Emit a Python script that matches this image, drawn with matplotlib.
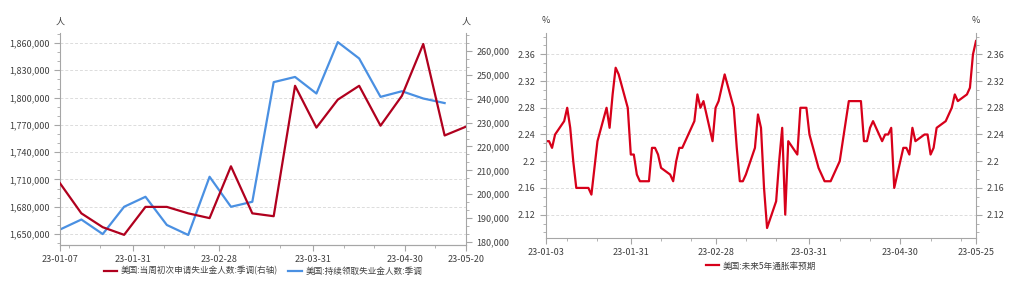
import pandas as pd
import matplotlib
matplotlib.use('Agg')
import matplotlib.pyplot as plt
import matplotlib.dates as mdates
from matplotlib.ticker import FuncFormatter, MultipleLocator, AutoMinorLocator

plt.rcParams['font.family'] = ['Noto Sans CJK SC', 'DejaVu Sans']

# ---- left chart: weekly jobless claims
weeks = pd.date_range('2023-01-07', '2023-05-20', freq='7D')
initial_claims = [204600, 192000, 186200, 183000, 194700, 194700, 192000, 190000,
                  211700, 192000, 190800, 245400, 227900, 239600, 245400, 228700,
                  241200, 262900, 224600, 228300]
continuing_claims = [1655000, 1666000, 1650000, 1680000, 1691000, 1660000, 1649000,
                     1713000, 1680000, 1685500, 1817000, 1822700, 1804500, 1861000,
                     1843000, 1800800, 1807000, 1799000, 1794000]
left_labels = ['美国:当周初次申请失业金人数:季调(右轴)', '美国:持续领取失业金人数:季调']

# ---- right chart: 5y breakeven inflation
bei_days = pd.bdate_range('2023-01-03', '2023-05-25', freq='C',
                          holidays=['2023-01-16', '2023-02-20'])
bei_5y = [2.23, 2.23, 2.22, 2.24, 2.26, 2.28, 2.25, 2.20, 2.16, 2.16, 2.15, 2.19, 2.23,
          2.28, 2.25, 2.30, 2.34, 2.33, 2.28, 2.21,
          2.21, 2.18, 2.17, 2.17, 2.22, 2.22, 2.21, 2.19, 2.18, 2.17, 2.20, 2.22, 2.22,
          2.26, 2.30, 2.28, 2.29, 2.23, 2.28,
          2.29, 2.31, 2.33, 2.28, 2.22, 2.17, 2.17, 2.18, 2.22, 2.27, 2.25, 2.16, 2.10,
          2.14, 2.20, 2.25, 2.12, 2.23, 2.21, 2.28, 2.28, 2.28, 2.24,
          2.19, 2.18, 2.17, 2.17, 2.17, 2.20, 2.23, 2.26, 2.29, 2.29, 2.29, 2.23, 2.23,
          2.25, 2.26, 2.23, 2.24, 2.24, 2.25, 2.16,
          2.22, 2.22, 2.21, 2.25, 2.23, 2.24, 2.24, 2.21, 2.22, 2.25, 2.26, 2.27, 2.28,
          2.30, 2.29, 2.30, 2.31, 2.36, 2.38]
right_label = '美国:未来5年通胀率预期'

txt = '#404040'
spine_c = '#a6a6a6'
grid_c = '#dcdcdc'
fs = 6.5

fig = plt.figure(figsize=(10.12, 2.88), dpi=100)


def style_axis(ax, sides):
    for s in ['top', 'left', 'right', 'bottom']:
        ax.spines[s].set_visible(s in sides)
        ax.spines[s].set_color(spine_c)
    ax.tick_params(which='both', colors=spine_c, labelcolor=txt, labelsize=fs)
    ax.tick_params(which='major', length=4)
    ax.tick_params(which='minor', length=2.5)


def date_ticks(ax, start, end):
    major = [pd.Timestamp(start)] + list(pd.to_datetime(['2023-01-31', '2023-02-28', '2023-03-31', '2023-04-30'])) + [pd.Timestamp(end)]
    minor = [d for d in pd.date_range(start, end) if d.day in (10, 20) and d not in major]
    ax.set_xticks(major)
    ax.set_xticks(minor, minor=True)
    ax.xaxis.set_major_formatter(mdates.DateFormatter('%y-%m-%d'))
    ax.set_xlim(pd.Timestamp(start), pd.Timestamp(end))


comma = FuncFormatter(lambda v, p: f'{int(round(v)):,}')

# ---------- left
ax1 = fig.add_axes([60 / 1012, 1 - 245 / 288, 406 / 1012, 212 / 288])
ax2 = ax1.twinx()
l_blue, = ax1.plot(weeks[:len(continuing_claims)], continuing_claims, color='#4a90e2', lw=1.6)
l_red, = ax2.plot(weeks, initial_claims, color='#b0001e', lw=1.6)
ax1.set_ylim(1638000, 1871000)
ax1.yaxis.set_major_locator(MultipleLocator(30000))
ax1.yaxis.set_minor_locator(AutoMinorLocator(3))
ax1.yaxis.set_major_formatter(comma)
ax2.set_ylim(178750, 267500)
ax2.yaxis.set_major_locator(MultipleLocator(10000))
ax2.yaxis.set_minor_locator(AutoMinorLocator(3))
ax2.yaxis.set_major_formatter(comma)
style_axis(ax1, ['left', 'bottom'])
style_axis(ax2, ['right', 'bottom'])
ax1.grid(axis='y', color=grid_c, ls=(0, (3, 2)), lw=0.7)
ax1.set_axisbelow(True)
date_ticks(ax1, '2023-01-07', '2023-05-20')
ax1.text(0, 1.03, '人', transform=ax1.transAxes, ha='center', va='bottom', fontsize=fs, color=txt)
ax1.text(1, 1.03, '人', transform=ax1.transAxes, ha='center', va='bottom', fontsize=fs, color=txt)
fig.legend([l_red, l_blue], left_labels, loc='center', bbox_to_anchor=(263 / 1012, 1 - 271 / 288),
           ncol=2, frameon=False, fontsize=6.2, handlelength=1.6, columnspacing=1.2,
           labelcolor=txt, handletextpad=0.4)

# ---------- right
ax3 = fig.add_axes([546 / 1012, 1 - 238 / 288, 430 / 1012, 205 / 288])
l_bei, = ax3.plot(bei_days, bei_5y, color='#d7001a', lw=1.6)
ax3.set_ylim(2.085, 2.392)
ax3.yaxis.set_major_locator(MultipleLocator(0.04))
ax3.yaxis.set_minor_locator(AutoMinorLocator(3))
ax3.yaxis.set_major_formatter(FuncFormatter(lambda v, p: f'{v:g}' if abs(v * 100 - round(v * 100)) < 1e-6 else ''))
style_axis(ax3, ['left', 'right', 'bottom'])
ax3.tick_params(axis='y', which='both', right=True, labelright=True)
ax3.grid(axis='y', color=grid_c, ls=(0, (3, 2)), lw=0.7)
ax3.set_axisbelow(True)
date_ticks(ax3, '2023-01-03', '2023-05-25')
ax3.text(0, 1.04, '%', transform=ax3.transAxes, ha='center', va='bottom', fontsize=fs, color=txt)
ax3.text(1, 1.04, '%', transform=ax3.transAxes, ha='center', va='bottom', fontsize=fs, color=txt)
fig.legend([l_bei], [right_label], loc='center', bbox_to_anchor=(761 / 1012, 1 - 266 / 288),
           frameon=False, fontsize=6.2, handlelength=1.6, labelcolor=txt, handletextpad=0.4)

fig.savefig('out.png', dpi=100)
